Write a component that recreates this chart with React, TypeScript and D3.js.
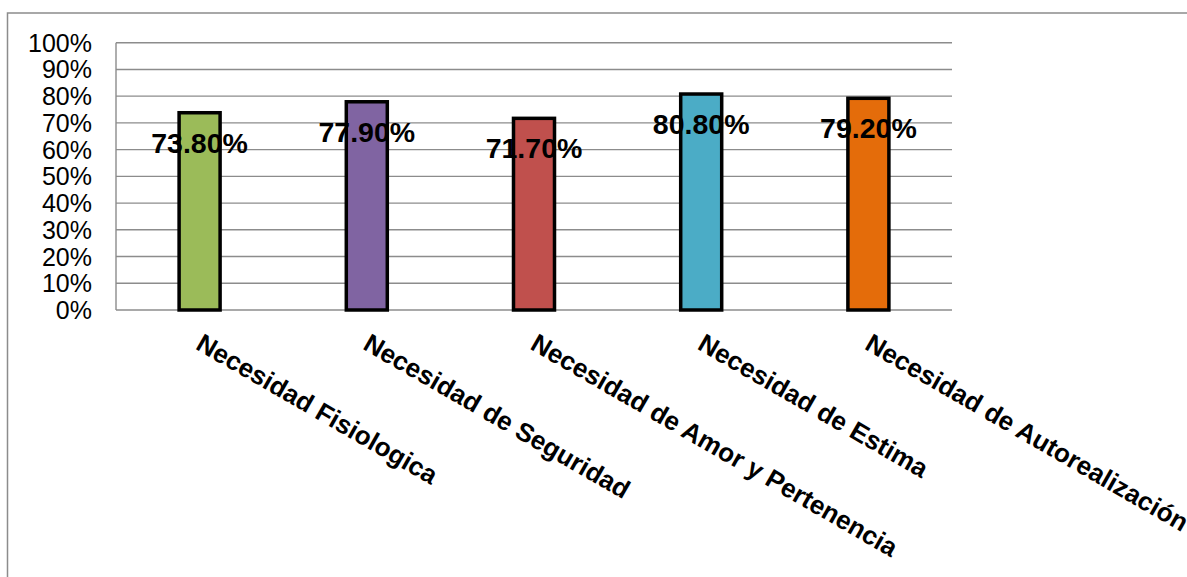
import * as d3 from "d3";
import { useEffect, useRef } from "react";

const categories = [
  "Necesidad Fisiologica",
  "Necesidad de Seguridad",
  "Necesidad de Amor y Pertenencia",
  "Necesidad de Estima",
  "Necesidad de Autorealización",
];
const values = [73.8, 77.9, 71.7, 80.8, 79.2];
const barColors = ["#9BBB59", "#8064A2", "#C0504D", "#4BACC6", "#E46C0A"];
const yTicks = [0, 10, 20, 30, 40, 50, 60, 70, 80, 90, 100];

const App = () => {
  const ref = useRef<SVGSVGElement>(null);

  useEffect(() => {
    const W = 1187,
      H = 577;
    const margin = { top: 42.7, left: 116, right: 235, bottom: 267 };
    const width = W - margin.left - margin.right;
    const height = H - margin.top - margin.bottom;
    const font = "'Liberation Sans', Arial, sans-serif";

    const root = d3.select(ref.current);
    root.selectAll("*").remove();

    // chart frame
    root
      .append("rect")
      .attr("x", 7.5)
      .attr("y", 13)
      .attr("width", 1300)
      .attr("height", 700)
      .attr("fill", "#fff")
      .attr("stroke", "#8c8c8c")
      .attr("stroke-width", 1.5);

    const svg = root
      .append("g")
      .attr("transform", `translate(${margin.left},${margin.top})`);

    const x = d3.scaleBand().domain(categories).range([0, width]);
    const y = d3.scaleLinear().domain([0, 100]).range([height, 0]);

    // gridlines
    svg
      .selectAll(".grid")
      .data(yTicks)
      .join("line")
      .attr("x1", 0)
      .attr("x2", width)
      .attr("y1", (d) => y(d))
      .attr("y2", (d) => y(d))
      .attr("stroke", "#8c8c8c")
      .attr("stroke-width", 1.4);

    // y axis line
    svg
      .append("line")
      .attr("x1", 0)
      .attr("x2", 0)
      .attr("y1", 0)
      .attr("y2", height)
      .attr("stroke", "#8c8c8c")
      .attr("stroke-width", 1.4);

    // y tick labels
    svg
      .selectAll(".ytick")
      .data(yTicks)
      .join("text")
      .attr("x", -24)
      .attr("y", (d) => y(d))
      .attr("dy", "0.36em")
      .attr("text-anchor", "end")
      .attr("font-family", font)
      .attr("font-size", 25)
      .attr("fill", "#000")
      .text((d) => `${d}%`);

    const bw = 41;

    // bars
    svg
      .selectAll(".bar")
      .data(values)
      .join("rect")
      .attr("x", (_, i) => x(categories[i])! + x.bandwidth() / 2 - bw / 2)
      .attr("y", (d) => y(d))
      .attr("width", bw)
      .attr("height", (d) => height - y(d))
      .attr("fill", (_, i) => barColors[i])
      .attr("stroke", "#000")
      .attr("stroke-width", 3.5);

    // value labels
    svg
      .selectAll(".val")
      .data(values)
      .join("text")
      .attr("x", (_, i) => x(categories[i])! + x.bandwidth() / 2)
      .attr("y", (d) => y(d) + 40)
      .attr("text-anchor", "middle")
      .attr("font-family", font)
      .attr("font-weight", "bold")
      .attr("font-size", 28.5)
      .attr("fill", "#000")
      .text((d) => `${d.toFixed(2)}%`);

    // category labels
    svg
      .selectAll(".cat")
      .data(categories)
      .join("text")
      .attr("transform", (d) => {
        const cx = x(d)! + x.bandwidth() / 2 - 5;
        return `translate(${cx},${height + 38.5})rotate(30)`;
      })
      .attr("text-anchor", "start")
      .attr("font-family", font)
      .attr("font-weight", "bold")
      .attr("font-size", 26)
      .attr("fill", "#000")
      .text((d) => d);
  }, []);

  return (
    <svg
      ref={ref}
      width={1187}
      height={577}
      style={{ position: "fixed", left: 0, top: 0, background: "#fff" }}
    />
  );
};

export default App;
